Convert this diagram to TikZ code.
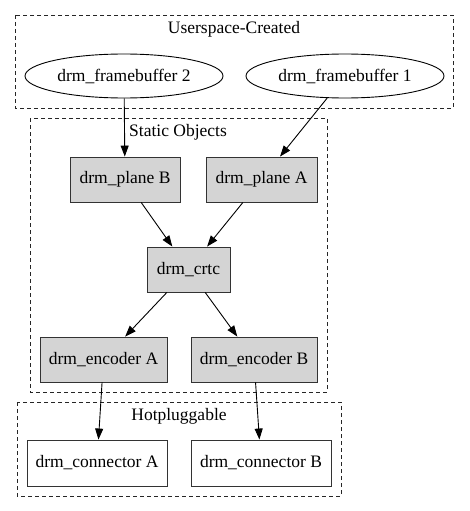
\documentclass[tikz,border=0pt]{standalone}
\usepackage{fontspec}
\setmainfont{Liberation Serif}
\usetikzlibrary{shapes.geometric,arrows.meta}
\begin{document}
\begin{tikzpicture}[x=1pt,y=-1pt,
  font=\fontsize{17.5}{20}\selectfont,
  cluster/.style={draw=black!85, dashed, line width=0.9pt, dash pattern=on 4pt off 3pt},
  ellnode/.style={ellipse, draw=black, line width=0.9pt, minimum width=198pt, minimum height=44pt, inner sep=0pt},
  staticbox/.style={rectangle, draw=black!80, fill=black!17, line width=0.9pt, minimum height=45pt, inner sep=0pt},
  plainbox/.style={rectangle, draw=black!80, fill=white, line width=0.9pt, minimum height=46pt, inner sep=0pt},
  edge/.style={draw=black, line width=0.9pt, -{Triangle[length=11pt,width=8pt]}},
  clabel/.style={inner sep=0pt}
]
\useasboundingbox (0,0) rectangle (469,511);
% clusters
\draw[cluster] (15,15) rectangle (453,108);
\node[clabel] (lu) at (234,29) {Userspace-Created};
\draw[cluster] (30,118) rectangle (327,392);
\node[clabel] (ls) at (178,132) {Static Objects};
\draw[cluster] (17,402) rectangle (341,496);
\node[clabel] (lh) at (179,416) {Hotpluggable};
% nodes
\node[ellnode] (fb2) at (124,76) {drm\_framebuffer 2};
\node[ellnode] (fb1) at (345,76) {drm\_framebuffer 1};
\node[staticbox, minimum width=110pt] (pb) at (125,179.5) {drm\_plane B};
\node[staticbox, minimum width=111pt] (pa) at (261.5,179.5) {drm\_plane A};
\node[staticbox, minimum width=83pt] (crtc) at (188.5,269.5) {drm\_crtc};
\node[staticbox, minimum width=127pt] (ea) at (103.5,359.5) {drm\_encoder A};
\node[staticbox, minimum width=126pt] (eb) at (254,359.5) {drm\_encoder B};
\node[plainbox, minimum width=140pt] (ca) at (97,463) {drm\_connector A};
\node[plainbox, minimum width=140pt] (cb) at (261,463) {drm\_connector B};
% edges
\draw[edge] (fb2) -- (pb);
\draw[edge] (fb1) -- (pa);
\draw[edge] (pb) -- (crtc);
\draw[edge] (pa) -- (crtc);
\draw[edge] (crtc) -- (ea);
\draw[edge] (crtc) -- (eb);
\draw[edge] (ea) -- (ca);
\draw[edge] (eb) -- (cb);
\end{tikzpicture}
\end{document}
